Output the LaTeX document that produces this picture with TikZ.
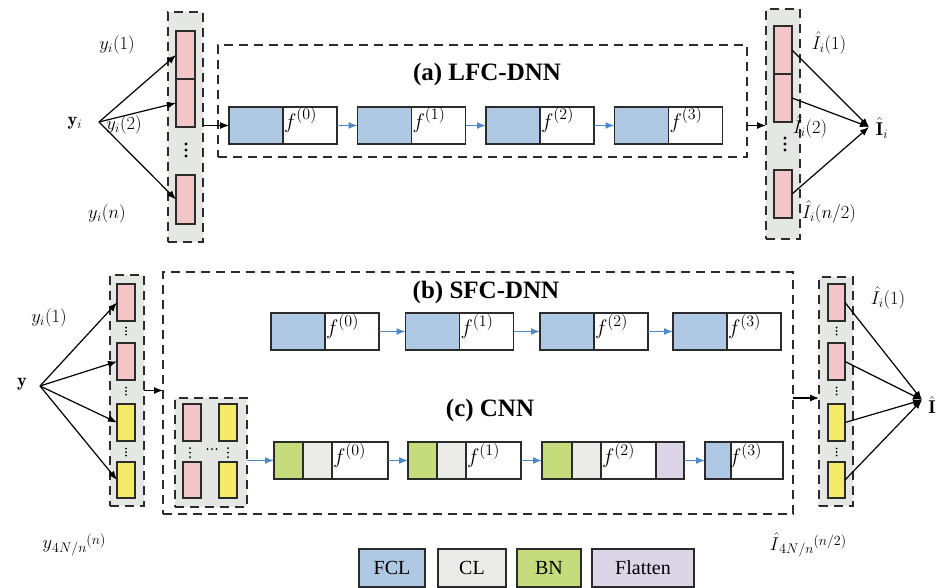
\RequirePackage{fix-cm}
\documentclass[tikz,border=0pt]{standalone}
\usepackage{fontspec}
\newfontfamily\tnr{Liberation Serif}
\usetikzlibrary{arrows.meta}
\definecolor{fclc}{HTML}{AFC9E4}
\definecolor{clc}{HTML}{EBEBEA}
\definecolor{bnc}{HTML}{C6DB7C}
\definecolor{flc}{HTML}{DCD5E8}
\definecolor{pkc}{HTML}{F4C5C6}
\definecolor{ylc}{HTML}{F4EA66}
\definecolor{colc}{HTML}{E5E7E4}
\definecolor{arrb}{HTML}{4A88CC}
\definecolor{edgec}{HTML}{2B2B2B}
\newcommand{\subsz}[1]{\raisebox{-0.45ex}{\fontsize{14}{14}\selectfont$#1$}}
\newcommand{\supsz}[1]{\raisebox{0.55ex}{\fontsize{14}{14}\selectfont$#1$}}
\newcommand{\fsup}[1]{$f$\raisebox{0.9ex}{\fontsize{16}{16}\selectfont$(#1)$}}
\begin{document}
\begin{tikzpicture}[x=1pt,y=-1pt,
 every node/.style={inner sep=0pt,outer sep=0pt},
 lab/.style={font=\fontsize{18.5}{21}\selectfont},
 flab/.style={font=\fontsize{21}{23}\selectfont,anchor=north west,inner sep=1pt},
 ttl/.style={font=\tnr\bfseries\fontsize{25}{27}\selectfont},
 cell/.style={draw=edgec,line width=1.2pt,minimum height=37pt},
 fcl/.style={cell,fill=fclc,minimum width=54pt},
 wc/.style={cell,fill=white,minimum width=54pt},
 bnb/.style={cell,fill=bnc,minimum width=29pt},
 clb/.style={cell,fill=clc,minimum width=29pt},
 flb/.style={cell,fill=flc,minimum width=28pt},
 pk/.style={draw=edgec,line width=1.2pt,fill=pkc,minimum width=18pt},
 yl/.style={draw=edgec,line width=1.2pt,fill=ylc,minimum width=18pt},
 dbox/.style={draw=edgec,line width=1.5pt,dash pattern=on 9pt off 6pt},
 colbg/.style={dbox,fill=colc},
 arr/.style={-{Latex[length=9pt,width=7pt]},line width=1.2pt,draw=black},
 barr/.style={-{Latex[length=9pt,width=7pt]},line width=1.6pt,draw=arrb},
 lg/.style={cell,minimum height=38pt,font=\tnr\fontsize{20}{22}\selectfont}
]
\useasboundingbox (0,0) rectangle (939,588);

% ===================== (a) =====================
\node[colbg,minimum width=35pt,minimum height=230pt] (colA) at (185.5,127) {};
\node[pk,minimum width=19pt,minimum height=48pt] (pa1) at (185.5,55) {};
\node[pk,minimum width=19pt,minimum height=48pt] (pa2) at (185.5,103) {};
\node[pk,minimum width=19pt,minimum height=49pt] (pa3) at (185.5,199.5) {};
\foreach \d in {144,150,156} \fill (186,\d) circle (1.6pt);

\node[lab] (yi) at (75,123) {$\mathbf{y}_i$};
\coordinate (yio) at (99,122);
\draw[arr] (yio) -- (pa1.west);
\draw[arr] (yio) -- (pa2.west);
\draw[arr] (yio) -- (pa3.west);
\node[lab] (lyi1) at (117,45) {$y_i(1)$};
\node[lab] (lyi2) at (124,125) {$y_i(2)$};
\node[lab] (lyin) at (107,214) {$y_i(n)$};

\node[dbox,minimum width=529pt,minimum height=112pt] (boxA) at (482.5,101) {};
\node[ttl] (ttlA) at (487,74) {(a) LFC-DNN};
\foreach \i/\x in {0/256,1/384.5,2/513,3/641.5}{
  \node[fcl] (a\i b) at (\x,125.5) {};
  \node[wc] (a\i w) at (\x+54,125.5) {};
  \node[flab] (fa\i) at (a\i w.north west) {\fsup{\i}};
}
\foreach \i/\j in {0/1,1/2,2/3} \draw[barr] (a\i w.east) -- (a\j b.west);
\draw[arr] (a0b.west -| colA.east) -- (a0b.west);

\node[colbg,minimum width=34pt,minimum height=230pt] (colAR) at (783,124) {};
\node[pk,minimum height=48pt] (ra1) at (783,50) {};
\node[pk,minimum height=48pt] (ra2) at (783,98) {};
\node[pk,minimum height=48pt] (ra3) at (783,194) {};
\foreach \d in {138,144,150} \fill (785,\d) circle (1.6pt);
\draw[arr] (a3w.east -| boxA.east) -- (a3w.east -| colAR.west);

\coordinate (ItA) at (869,127);
\node[lab] (IhA) at (882,128) {$\hat{\mathbf{I}}_i$};
\draw[arr] (ra1.east) -- (ItA);
\draw[arr] (ra2.east) -- (ItA);
\draw[arr] (ra3.east) -- (ItA);
\node[lab] (lIa1) at (829,43) {$\hat{I}_i(1)$};
\node[lab] (lIa2) at (810,127) {$\hat{I}_i(2)$};
\node[lab] (lIan) at (829,212) {$\hat{I}_i(n/2)$};

% ===================== (b),(c) =====================
\node[colbg,minimum width=34pt,minimum height=231pt] (colB) at (127,390.5) {};
\node[pk,minimum height=37pt] (qb1) at (126,302.5) {};
\node[pk,minimum height=37pt] (qb2) at (126,361.5) {};
\node[yl,minimum height=37pt] (qb3) at (126,422.5) {};
\node[yl,minimum height=36pt] (qb4) at (126,480) {};
\foreach \c in {331,391,452}
  \foreach \d in {-3.5,0,3.5} \fill (126,\c+\d) circle (1pt);

\node[lab] (yB) at (22,384) {$\mathbf{y}$};
\coordinate (yBo) at (40,386);
\foreach \q in {qb1,qb2,qb3,qb4} \draw[arr] (yBo) -- (\q.west);
\node[lab] (lyB1) at (49,318) {$y_i(1)$};
\node[lab] (lyBn) at (74,545) {$y$\subsz{4N/n}\supsz{(n)}};

\node[dbox,minimum width=630pt,minimum height=242pt] (boxBC) at (478,393) {};
\draw[arr] (colB.east) -- (colB.east -| boxBC.west);
\node[ttl] (ttlB) at (486,292) {(b) SFC-DNN};
\node[ttl] (ttlC) at (490,410) {(c) CNN};

\foreach \i/\x in {0/298,1/432.5,2/567,3/700}{
  \node[fcl] (b\i b) at (\x,331.5) {};
  \node[wc] (b\i w) at (\x+54,331.5) {};
  \node[flab] (fb\i) at (b\i w.north west) {\fsup{\i}};
}
\foreach \i/\j in {0/1,1/2,2/3} \draw[barr] (b\i w.east) -- (b\j b.west);

% CNN input grid
\node[colbg,minimum width=72pt,minimum height=109pt] (grid) at (211,452.5) {};
\node[pk,minimum height=37pt] (gp1) at (192,422.5) {};
\node[pk,minimum height=36pt] (gp2) at (192,480) {};
\node[yl,minimum height=37pt] (gy1) at (228,422.5) {};
\node[yl,minimum height=36pt] (gy2) at (228,480) {};
\foreach \d in {448,452.5,457} {\fill (190,\d) circle (1pt); \fill (228,\d) circle (1pt);}
\foreach \d in {207.5,212,216.5} \fill (\d,449) circle (1pt);

% CNN blocks
\node[bnb] (c0g) at (288.5,460.5) {};
\node[clb] (c0c) at (317.5,460.5) {};
\node[wc,minimum width=56pt] (c0w) at (360,460.5) {};
\node[bnb] (c1g) at (422.5,460.5) {};
\node[clb] (c1c) at (451.5,460.5) {};
\node[wc,minimum width=55pt] (c1w) at (493.5,460.5) {};
\node[bnb,minimum width=30pt] (c2g) at (557,460.5) {};
\node[clb] (c2c) at (586.5,460.5) {};
\node[wc,minimum width=55pt] (c2w) at (628.5,460.5) {};
\node[flb] (c2f) at (670,460.5) {};
\node[fcl,minimum width=26pt] (c3b) at (718,460.5) {};
\node[wc,minimum width=52pt] (c3w) at (757,460.5) {};
\foreach \i in {0,1,2} \node[flab] (fc\i) at (c\i w.north west) {\fsup{\i}};
\node[flab] (fc3) at ([xshift=-3pt]c3w.north west) {\fsup{3}};
\draw[barr] (grid.east |- c0g.west) -- (c0g.west);
\draw[barr] (c0w.east) -- (c1g.west);
\draw[barr] (c1w.east) -- (c2g.west);
\draw[barr] (c2f.east) -- (c3b.west);

% output column
\node[colbg,minimum width=34pt,minimum height=229pt] (colBR) at (836,391.5) {};
\node[pk,minimum width=17pt,minimum height=37pt] (rb1) at (836.5,302.5) {};
\node[pk,minimum width=17pt,minimum height=37pt] (rb2) at (836.5,361.5) {};
\node[yl,minimum width=17pt,minimum height=37pt] (rb3) at (836.5,422.5) {};
\node[yl,minimum width=17pt,minimum height=36pt] (rb4) at (836.5,480) {};
\foreach \c in {331,391,452}
  \foreach \d in {-3.5,0,3.5} \fill (836.5,\c+\d) circle (1pt);
\coordinate (inBR) at (793,398);
\draw[arr] (inBR) -- (inBR -| colBR.west);

\coordinate (ItB) at (922,400);
\node[lab] (IhB) at (932,405) {$\hat{\mathbf{I}}$};
\foreach \r in {rb1,rb2,rb3,rb4} \draw[arr] (\r.east) -- (ItB);
\node[lab] (lIb1) at (888,298) {$\hat{I}_i(1)$};
\node[lab] (lIbn) at (808,545) {$\hat{I}$\subsz{4N/n}\supsz{(n/2)}};

% legend
\node[lg,fill=fclc,minimum width=66pt] (lgF) at (392,568) {FCL};
\node[lg,fill=clc,minimum width=68pt] (lgC) at (472,568) {CL};
\node[lg,fill=bnc,minimum width=64pt] (lgB) at (549,568) {BN};
\node[lg,fill=flc,minimum width=102pt] (lgL) at (643,568) {Flatten};
\end{tikzpicture}
\end{document}
